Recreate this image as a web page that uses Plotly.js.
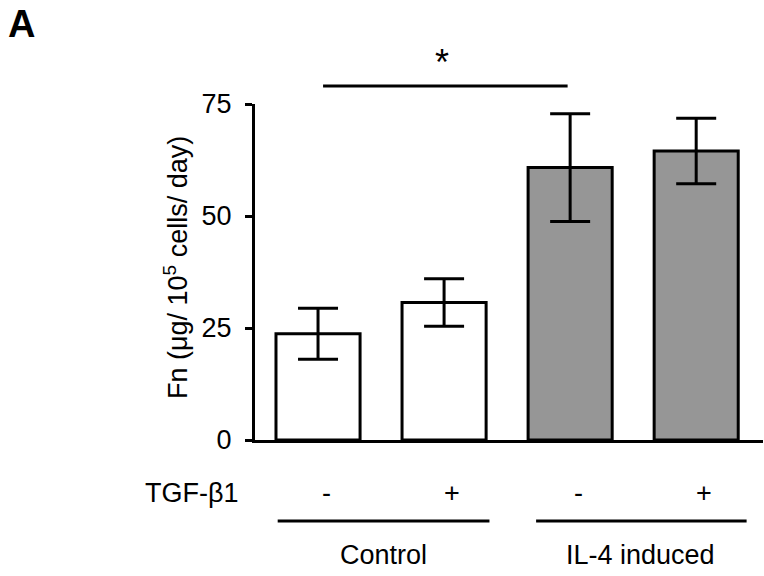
<!DOCTYPE html>
<html>
<head>
<meta charset="utf-8">
<script src="https://cdn.plot.ly/plotly-3.0.1.min.js"></script>
<style>html,body{margin:0;padding:0;background:#fff;}#chart{width:764px;height:576px;}</style>
</head>
<body>
<div id="chart"></div>
<script>
// Data
const categories = ["Control -", "Control +", "IL-4 induced -", "IL-4 induced +"];
const values = [23.7, 30.7, 60.8, 64.5];
const errors = [5.7, 5.3, 12.0, 7.3];
const tgfLabels = ["-", "+", "-", "+"];
const groupLabels = ["Control", "IL-4 induced"];
const yTicks = [0, 25, 50, 75];

const FONT = "Liberation Sans, Arial, sans-serif";
const L = 255, R = 1, T = 104, B = 136, W = 764, H = 576;
const pw = W - L - R, ph = H - T - B;
const px = x => (x - L) / pw;
const py = y => (H - B - y) / ph;

const trace = {
  type: "bar",
  x: [0, 1, 2, 3],
  y: values,
  marker: {
    color: ["#ffffff", "#ffffff", "#969696", "#969696"],
    line: {color: "#000", width: 3}
  },
  error_y: {type: "data", array: errors, visible: true, color: "#000", thickness: 3, width: 20},
  hoverinfo: "skip"
};

const annotations = [
  {xref: "paper", yref: "paper", x: px(6), y: py(24), xanchor: "left", yanchor: "middle",
   text: "<b>A</b>", showarrow: false, font: {family: FONT, size: 38, color: "#000"}},
  {xref: "x", yref: "paper", x: 1, xshift: -2, y: py(62), xanchor: "center", yanchor: "middle",
   text: "*", showarrow: false, font: {family: FONT, size: 36, color: "#000"}},
  {xref: "paper", yref: "paper", x: px(241), y: py(493), xanchor: "right", yanchor: "middle",
   text: "TGF-β1", showarrow: false, font: {family: FONT, size: 27, color: "#000"}},
  {xref: "paper", yref: "paper", x: px(176), y: py(268), xanchor: "center", yanchor: "middle",
   textangle: -90, text: "Fn (μg/ 10<sup>5</sup> cells/ day)", showarrow: false,
   font: {family: FONT, size: 27, color: "#000"}}
];
tgfLabels.forEach((t, i) => annotations.push({
  xref: "x", yref: "paper", x: i, xshift: 8, y: py(493), xanchor: "center", yanchor: "middle",
  text: t, showarrow: false, font: {family: FONT, size: 27, color: "#000"}
}));
groupLabels.forEach((g, i) => annotations.push({
  xref: "x", yref: "paper", x: 0.52 + 2.04 * i, y: py(555), xanchor: "center", yanchor: "middle",
  text: g, showarrow: false, font: {family: FONT, size: 27, color: "#000"}
}));

const shapes = [
  {type: "line", xref: "x", yref: "paper", x0: 0.04, x1: 1.98, y0: py(86), y1: py(86), line: {color: "#000", width: 3}},
  {type: "line", xref: "x", yref: "paper", x0: -0.32, x1: 1.36, y0: py(521), y1: py(521), line: {color: "#000", width: 3}},
  {type: "line", xref: "x", yref: "paper", x0: 1.73, x1: 3.40, y0: py(521), y1: py(521), line: {color: "#000", width: 3}}
];

const layout = {
  width: W, height: H,
  margin: {l: L, r: R, t: T, b: B, pad: 0},
  paper_bgcolor: "#fff", plot_bgcolor: "#fff",
  showlegend: false,
  bargap: 0.333,
  font: {family: FONT, size: 27, color: "#000"},
  xaxis: {range: [-0.5, 3.53], showline: true, linecolor: "#000", linewidth: 3,
          showticklabels: false, ticks: "", showgrid: false, zeroline: false, fixedrange: true},
  yaxis: {range: [0, 75], tickvals: yTicks, ticktext: yTicks.map(String), showline: true,
          linecolor: "#000", linewidth: 3, ticks: "outside", ticklen: 7, tickwidth: 3, tickcolor: "#000",
          ticklabelstandoff: 8, showgrid: false, zeroline: false, fixedrange: true,
          tickfont: {family: FONT, size: 27, color: "#000"}},
  annotations: annotations,
  shapes: shapes
};

Plotly.newPlot("chart", [trace], layout, {displayModeBar: false, staticPlot: true});
</script>
</body>
</html>
